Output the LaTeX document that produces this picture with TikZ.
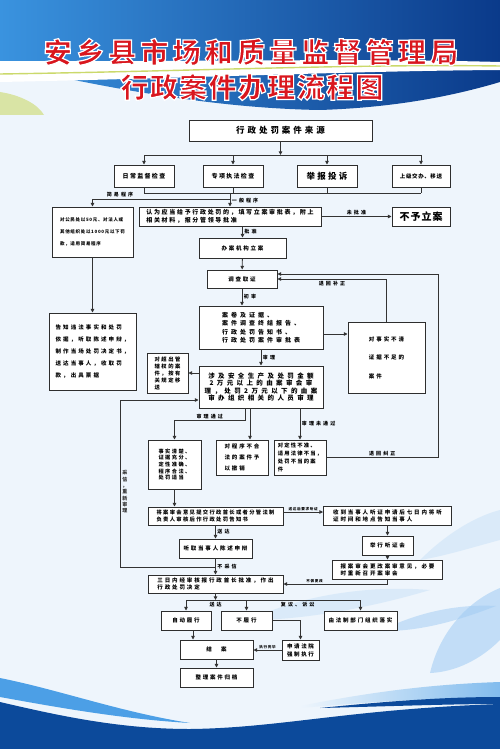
\documentclass[tikz,border=0pt]{standalone}
\usepackage{fontspec}
\setmainfont{Noto Sans CJK SC}
\usetikzlibrary{arrows.meta, positioning, calc}
\definecolor{paper}{HTML}{EEF5FC}
\definecolor{skyblue}{HTML}{3A93DF}
\definecolor{deepblue}{HTML}{0A3A8A}
\definecolor{titlered}{HTML}{D9161E}
\definecolor{navy}{HTML}{0C4A9B}
\definecolor{waveblue}{HTML}{4C9FE6}
\definecolor{leafblue}{HTML}{9FCBF3}
\definecolor{limeline}{HTML}{CBD96B}
\definecolor{boxline}{HTML}{2E2E2E}
\definecolor{flowline}{HTML}{333333}
\newcommand\bxfont[3]{\bfseries\fontsize{#1}{#2}\selectfont\addfontfeature{LetterSpace=#3}}
% red letters with a white rim
\newcommand\rimtext[1]{\special{pdf:literal direct 2 Tr 1.2 w 1 1 1 RG}#1\special{pdf:literal direct 0 Tr}}
\tikzset{
  box/.style={rectangle, draw=boxline, line width=0.9pt, fill=white, inner sep=1pt,
    align=center, font=\bxfont{5.5}{7}{32}},
  boxl/.style={box, align=left},
  lbl/.style={font=\bxfont{5}{6}{42}, inner sep=1.5pt, text=black},
  tinylbl/.style={font=\bxfont{3.6}{4}{18}, inner sep=1pt, text=black},
  title/.style={font=\bxfont{28}{30}{15}, text=titlered, inner sep=0pt},
  arrow/.style={-{Triangle[length=3.6pt, width=3.4pt]}, line width=0.9pt, flowline},
  line/.style={line width=0.9pt, flowline},
}

\begin{document}
\begin{tikzpicture}[x=1pt, y=-1pt]
\useasboundingbox (0,0) rectangle (500,749);
% background
\fill[paper] (0,0) rectangle (500,749);
\shade[left color=skyblue, right color=deepblue] (0,0) -- (500,0) -- (500,82)
  .. controls (440,100) and (380,108) .. (320,110)
  .. controls (200,108) and (80,82) .. (0,64) -- cycle;
\fill[white] (0,61) .. controls (200,62) and (350,58) .. (500,62) -- (500,70)
  .. controls (350,71) and (200,78) .. (0,82) -- cycle;
\draw[limeline, line width=1.4pt] (0,74) .. controls (200,71) and (350,64) .. (500,66);
\fill[limeline, opacity=.6] (0,92) .. controls (20,95) and (38,104) .. (44,115) -- (0,115) -- cycle;
% leaves
\fill[leafblue, opacity=.55] (430,673) .. controls (440,630) and (470,600) .. (500,588)
  -- (500,640) .. controls (480,660) and (455,672) .. (430,673) -- cycle;
\fill[leafblue, opacity=.5] (380,631) .. controls (420,611) and (460,604) .. (496,606)
  .. controls (460,620) and (420,632) .. (380,631) -- cycle;
\fill[leafblue, opacity=.25] (250,620) .. controls (300,595) and (370,585) .. (430,590)
  .. controls (380,605) and (310,620) .. (250,620) -- cycle;
\fill[leafblue, opacity=.25] (420,560) .. controls (450,530) and (480,515) .. (500,510)
  -- (500,540) .. controls (470,548) and (445,556) .. (420,560) -- cycle;
% bottom waves
\fill[waveblue] (0,678) .. controls (60,690) and (120,712) .. (190,723)
  .. controls (120,719) and (50,706) .. (0,697) -- cycle;
\shade[left color=paper, right color=waveblue!70] (300,706) .. controls (380,690) and (440,684) .. (500,682)
  -- (500,698) .. controls (420,698) and (360,703) .. (300,708) -- cycle;
\fill[navy] (0,702) .. controls (60,716) and (120,729) .. (190,729)
  .. controls (280,728) and (350,709) .. (500,704) -- (500,749) -- (0,749) -- cycle;
\fill[navy] (320,708) .. controls (400,700) and (450,697) .. (500,697) -- (500,704)
  .. controls (450,704) and (400,706) .. (320,708) -- cycle;

% title
\node[title] (ttl1) at (251,52) {\rimtext{安乡县市场和质量监督管理局}};
\node[title, font=\bxfont{28}{30}{5}] (ttl2) at (252,87) {\rimtext{行政案件办理流程图}};

% coordinates of the buses
\coordinate (busA) at (0,155);
\coordinate (busB) at (0,193);
\coordinate (split) at (0,199);
\coordinate (retR) at (438,0);
\coordinate (fbL) at (120,0);
\coordinate (busC) at (0,600);

% nodes
\node[box, minimum width=183pt, minimum height=21pt, font=\bxfont{8.5}{10}{35}] (src) at (280.5,130.5) {行政处罚案件来源};
\node[box, minimum width=60pt, minimum height=22pt, font=\bxfont{6}{7}{22}] (daily) at (144,176) {日常监督检查};
\node[box, minimum width=60pt, minimum height=22pt, font=\bxfont{6}{7}{22}] (special) at (233,176) {专项执法检查};
\node[box, minimum width=60pt, minimum height=22pt, font=\bxfont{8.5}{10}{27}] (report) at (327,176) {举报投诉};
\node[box, minimum width=58pt, minimum height=22pt, font=\bxfont{5.5}{7}{11}] (upper) at (421,176) {上级交办、移送};

\node[boxl, minimum width=81pt, minimum height=50pt, font=\bxfont{4.5}{12}{15}] (simple) at (92.5,232) {对公民处以50元、对法人或\\其他组织处以1000元以下罚\\款，适用简易程序};
\node[boxl, minimum width=182pt, minimum height=19pt, font=\bxfont{6}{8}{28}] (file) at (230,216.5) {认为应当给予行政处罚的，填写立案审批表，附上\\相关材料，报分管领导批准};
\node[box, minimum width=58pt, minimum height=19pt, font=\bxfont{10}{12}{10}] (reject) at (421,216.5) {不予立案};
\node[box, minimum width=87pt, minimum height=20pt] (open) at (242.5,248) {办案机构立案};
\node[box, minimum width=70pt, minimum height=18pt] (invest) at (242,279) {调查取证};
\node[boxl, minimum width=124pt, minimum height=43pt, font=\bxfont{6}{8.5}{50}] (docs) at (261,327.5) {案卷及证据、\\案件调查终结报告、\\行政处罚告知书、\\行政处罚案件审批表};
\node[boxl, minimum width=77pt, minimum height=71pt, font=\bxfont{5.5}{18.5}{36}] (unclear) at (386.5,357.5) {对事实不清\\证据不足的\\案件};
\node[boxl, minimum width=87pt, minimum height=77pt, font=\bxfont{5.5}{12}{38}] (notify) at (92.5,351.5) {告知违法事实和处罚\\依据，听取陈述申辩，\\制作当场处罚决定书，\\送达当事人，收取罚\\款，出具票据};
\node[box, minimum width=124pt, minimum height=42pt, font=\bxfont{6.5}{7.6}{52}] (review) at (261,387) {涉及安全生产及处罚金额\\2万元以上的由案审会审\\理，处罚2万元以下的由案\\审办组织相关的人员审理};
\node[boxl, minimum width=41pt, minimum height=40pt, font=\bxfont{5.3}{7}{30}] (transfer) at (167.5,373) {对超出管\\辖权的案\\件，按有\\关规定移\\送};
\node[boxl, minimum width=53pt, minimum height=49pt, font=\bxfont{5.2}{6.7}{28}] (pass) at (174.5,464.5) {事实清楚、\\证据充分、\\定性准确、\\程序合法、\\处罚适当};
\node[boxl, minimum width=52pt, minimum height=35pt, font=\bxfont{5.5}{11}{32}] (revoke) at (242,457.5) {对程序不合\\法的案件予\\以撤销};
\node[boxl, minimum width=52pt, minimum height=35pt, font=\bxfont{5.3}{8}{22}] (wrong) at (300,457.5) {对定性不准、\\适用法律不当，\\处罚不当的案\\件};
\node[boxl, minimum width=135pt, minimum height=18pt, font=\bxfont{5.3}{7}{25}] (inform) at (215.5,516) {将案审会意见提交行政首长或者分管法制\\负责人审核后作行政处罚告知书};
\node[boxl, minimum width=128pt, minimum height=19pt, font=\bxfont{5.5}{7}{34}] (hearreq) at (387.5,515.5) {收到当事人听证申请后七日内将听\\证时间和地点告知当事人};
\node[box, minimum width=51pt, minimum height=19pt] (hearing) at (387.5,545.5) {举行听证会};
\node[boxl, minimum width=110pt, minimum height=19pt, font=\bxfont{5.5}{7}{34}] (revise) at (387.5,569.5) {报案审会更改案审意见，必要\\时重新召开案审会};
\node[box, minimum width=73pt, minimum height=19pt] (plead) at (215.5,548.5) {听取当事人陈述申辩};
\node[boxl, minimum width=135pt, minimum height=18pt, font=\bxfont{5.5}{7}{34}] (decide) at (215.5,584) {三日内经审核报行政首长批准，作出\\行政处罚决定};
\node[box, minimum width=50pt, minimum height=19pt] (auto) at (186,620.5) {自动履行};
\node[box, minimum width=51pt, minimum height=19pt] (nonexec) at (246.5,620.5) {不履行};
\node[box, minimum width=73pt, minimum height=19pt] (legal) at (360.5,620.5) {由法制部门组织落实};
\node[box, minimum width=73pt, minimum height=19pt] (close) at (216.5,649.5) {结　案};
\node[box, minimum width=37pt, minimum height=20pt, font=\bxfont{5.5}{8}{30}] (court) at (300.5,650) {申请法院\\强制执行};
\node[box, minimum width=73pt, minimum height=19pt] (archive) at (216.5,677.5) {整理案件归档};

% connectors
\draw[arrow] (src) -- (src |- busA);
\draw[line] (daily |- busA) -- (upper |- busA);
\foreach \n in {daily,special,report,upper}
  \draw[arrow] (\n |- busA) -- (\n);
\foreach \n in {daily,special,report,upper}
  \draw[line] (\n) -- (\n |- busB);
\draw[line] (daily |- busB) -- (upper |- busB);
\draw[arrow] (file |- busB) -- node[lbl, right, pos=.55]{一般程序} (file);
\draw[arrow] (file |- split) -- node[lbl, above, pos=.8]{简易程序} (simple |- split) -- (simple);
\draw[arrow] (simple) -- (notify);
\draw[arrow] (file) -- node[lbl, above]{未批准} (reject);
\draw[arrow] (open |- file.south) -- node[lbl, right]{批准} (open);
\draw[arrow] (open) -- (invest);
\draw[arrow] (invest) -- node[lbl, right]{初审} (invest |- docs.north);
\draw[arrow] ([yshift=-6.5pt]docs.east) -- ([yshift=-6.5pt]docs.east -| unclear.west);
\draw[arrow] (unclear.north) |- node[lbl, below, pos=.75]{退回补正} (invest.east);
\draw[arrow] (docs) -- node[lbl, right]{审理} (review);
\draw[arrow] (review.west |- transfer) -- (transfer);
\draw[arrow] ([xshift=-16pt]review.south) -- ++(0,12) -| node[lbl, above, pos=.25]{审理通过} (pass.north);
\draw[arrow] ([xshift=-11pt]review.south) -- ([xshift=-11pt]review.south |- revoke.north);
\draw[arrow] ([xshift=39pt]review.south) -- node[lbl, right]{审理未通过} (wrong);
\draw[arrow] (wrong.east) -- node[lbl, above]{退回纠正} (wrong.east -| retR)
  -- ([yshift=5pt]invest.east -| retR) -- ([yshift=5pt]invest.east);
\draw[arrow] (pass) -- (pass |- inform.north);
\draw[arrow] ([yshift=4pt]inform.east) -- node[tinylbl, above]{送达后要求听证} ([yshift=4pt]inform.east -| hearreq.west);
\draw[arrow] (hearreq) -- (hearing);
\draw[arrow] (hearing) -- (revise);
\draw[arrow] (revise.south) |- node[tinylbl, above, pos=.85]{不做更改} (decide.east);
\draw[arrow] (inform) -- node[lbl, right]{送达} (plead);
\draw[arrow] (plead) -- node[lbl, right]{不采信} (decide);
\coordinate (fbjoin) at (215.5,567);
\draw[arrow] (fbjoin) -- (fbjoin -| fbL)
  -- node[right, pos=.45, align=center, inner sep=2pt, font=\bxfont{5}{6.3}{0}]{采\\信\\，\\重\\新\\审\\理} ([yshift=-13pt]review.west -| fbL)
  -- ([yshift=-13pt]review.west);
\draw[arrow] (decide) -- (decide |- busC);
\draw[line] (auto |- busC) -- node[lbl, below, pos=.17]{送达} node[lbl, below, pos=.64]{复议、诉讼} (legal |- busC);
\foreach \n in {auto,nonexec,legal}
  \draw[arrow] (\n |- busC) -- (\n);
\draw[arrow] ([xshift=7pt]auto.south) -- ([xshift=7pt]auto.south |- close.north);
\draw[arrow] (nonexec.east) -| (court.north);
\draw[arrow] (court.west) -- node[tinylbl, above]{执行完毕} (court.west -| close.east);
\draw[arrow] (close) -- (archive);
\end{tikzpicture}
\end{document}
